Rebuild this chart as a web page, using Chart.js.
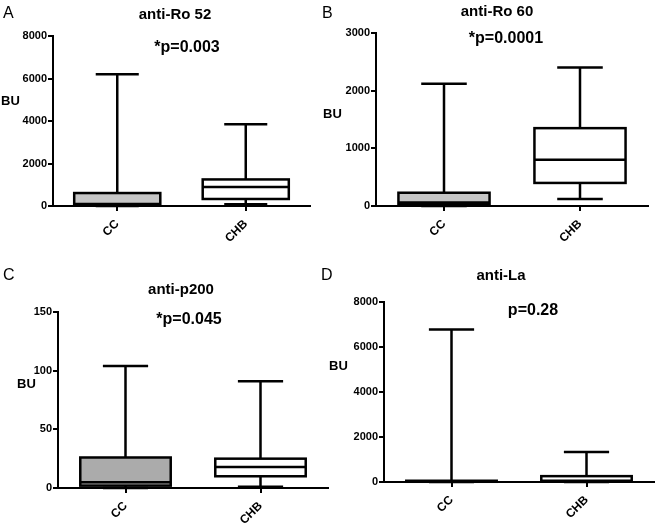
<!DOCTYPE html>
<html>
<head>
<meta charset="utf-8">
<script src="https://cdn.jsdelivr.net/npm/chart.js@4.4.1/dist/chart.umd.min.js"></script>
<style>
  html, body { margin:0; padding:0; background:#fff; }
  body { width:656px; height:526px; position:relative; overflow:hidden; font-family:"Liberation Sans", Arial, sans-serif; }
  .pane { position:absolute; }
  .txt { position:absolute; white-space:nowrap; color:#000; line-height:1; }
  .letter { font-size:16px; font-weight:normal; }
  .title { font-size:15px; font-weight:bold; transform:translate(-50%,-50%); }
  .pval { font-size:16px; font-weight:bold; transform:translate(-50%,-50%); }
  .bu { font-size:13px; font-weight:bold; transform:translateY(-50%); }
</style>
</head>
<body>
<script>
// ---- data ----
const categories = ['CC', 'CHB'];
const panelLetters = ['A', 'B', 'C', 'D'];
const panelTitles = ['anti-Ro 52', 'anti-Ro 60', 'anti-p200', 'anti-La'];
const pValues = ['*p=0.003', '*p=0.0001', '*p=0.045', 'p=0.28'];
const yUnit = 'BU';
const yMaxValues = [8000, 3000, 150, 8000];
const yStepValues = [2000, 1000, 50, 2000];

const ro52Min = [0, 80];
const ro52Q1 = [40, 330];
const ro52Median = [90, 900];
const ro52Q3 = [610, 1250];
const ro52Max = [6200, 3850];

const ro60Min = [0, 120];
const ro60Q1 = [30, 400];
const ro60Median = [60, 800];
const ro60Q3 = [230, 1350];
const ro60Max = [2120, 2400];

const p200Min = [0, 1];
const p200Q1 = [2, 10];
const p200Median = [5, 18];
const p200Q3 = [26, 25];
const p200Max = [104, 91];

const laMin = [0, 0];
const laQ1 = [10, 20];
const laMedian = [30, 60];
const laQ3 = [55, 260];
const laMax = [6780, 1330];

const boxFills = ['#c6c6c6', '#c6c6c6', '#ababab', '#c6c6c6'];

// ---- layout (positions / sizes) ----
const panes = [
  { left:0,   top:0,   w:326, h:260, areaL:53, padR:16, padT:36, xH:54,
    letter:[3,5], title:[175,13], pval:[187,47], bu:[1,100], stats:[ro52Min, ro52Q1, ro52Median, ro52Q3, ro52Max] },
  { left:326, top:0,   w:330, h:260, areaL:50, padR:8,  padT:33, xH:54,
    letter:[-4,5], title:[171,10], pval:[180,38], bu:[-3,113], stats:[ro60Min, ro60Q1, ro60Median, ro60Q3, ro60Max] },
  { left:0,   top:260, w:330, h:266, areaL:58, padR:2,  padT:52, xH:38,
    letter:[3,7], title:[181,28], pval:[189,59], bu:[17,123], stats:[p200Min, p200Q1, p200Median, p200Q3, p200Max] },
  { left:326, top:260, w:330, h:266, areaL:58, padR:2,  padT:42, xH:44,
    letter:[-5,7], title:[175,14], pval:[207,50], bu:[3,105], stats:[laMin, laQ1, laMedian, laQ3, laMax] }
];

const LW = 2.5;

const boxPlugin = {
  id: 'boxWhisker',
  afterDatasetsDraw(chart) {
    const st = chart.options.plugins.boxWhisker.stats;
    const ys = chart.scales.y;
    const meta = chart.getDatasetMeta(0);
    const ctx = chart.ctx;
    ctx.save();
    ctx.strokeStyle = '#000';
    ctx.lineWidth = LW;
    ctx.lineCap = 'butt';
    meta.data.forEach((el, i) => {
      const x = el.x, hw = el.width / 2, cap = el.width / 4;
      const yMin = ys.getPixelForValue(st[0][i]);
      const yQ1 = ys.getPixelForValue(st[1][i]);
      const yMed = ys.getPixelForValue(st[2][i]);
      const yQ3 = ys.getPixelForValue(st[3][i]);
      const yMax = ys.getPixelForValue(st[4][i]);
      ctx.beginPath();
      ctx.moveTo(x, yQ3); ctx.lineTo(x, yMax);
      ctx.moveTo(x - cap, yMax); ctx.lineTo(x + cap, yMax);
      ctx.moveTo(x, yQ1); ctx.lineTo(x, yMin);
      ctx.moveTo(x - cap, yMin); ctx.lineTo(x + cap, yMin);
      ctx.moveTo(x - hw, yMed); ctx.lineTo(x + hw, yMed);
      ctx.stroke();
      ctx.strokeRect(x - hw, yQ3, el.width, yQ1 - yQ3);
    });
    ctx.restore();
  }
};

panes.forEach((p, k) => {
  const div = document.createElement('div');
  div.className = 'pane';
  div.style.left = p.left + 'px'; div.style.top = p.top + 'px';
  div.style.width = p.w + 'px'; div.style.height = p.h + 'px';
  const cv = document.createElement('canvas');
  cv.width = p.w; cv.height = p.h;
  cv.style.width = p.w + 'px'; cv.style.height = p.h + 'px';
  div.appendChild(cv);
  document.body.appendChild(div);

  const addText = (cls, text, pos) => {
    const t = document.createElement('div');
    t.className = 'txt ' + cls;
    t.textContent = text;
    t.style.left = (p.left + pos[0]) + 'px';
    t.style.top = (p.top + pos[1]) + 'px';
    document.body.appendChild(t);
  };
  addText('letter', panelLetters[k], p.letter);
  addText('title', panelTitles[k], p.title);
  addText('pval', pValues[k], p.pval);
  addText('bu', yUnit, p.bu);

  const st = p.stats;
  const tickFont = { family: '"Liberation Sans", Arial, sans-serif', size: 11, weight: 'bold' };
  new Chart(cv, {
    type: 'bar',
    data: {
      labels: categories,
      datasets: [{
        data: categories.map((c, i) => [st[1][i], st[3][i]]),
        backgroundColor: [boxFills[k], '#ffffff'],
        borderWidth: 0,
        barPercentage: 0.67,
        categoryPercentage: 1
      }]
    },
    options: {
      responsive: false,
      devicePixelRatio: 1,
      animation: false,
      layout: { padding: { left: 0, right: p.padR, top: p.padT, bottom: 0 } },
      plugins: {
        legend: { display: false },
        tooltip: { enabled: false },
        title: { display: false },
        boxWhisker: { stats: st }
      },
      scales: {
        x: {
          offset: true,
          afterFit: s => { s.height = p.xH; },
          grid: { display: true, offset: false, drawOnChartArea: false, drawTicks: true, tickLength: 5, color: '#000', lineWidth: 2 },
          border: { display: true, color: '#000', width: 2 },
          ticks: { color: '#000', font: { ...tickFont, size: 12 }, maxRotation: 45, minRotation: 45, padding: 6 }
        },
        y: {
          min: 0, max: yMaxValues[k],
          afterFit: s => { s.width = p.areaL; },
          grid: { display: true, drawOnChartArea: false, drawTicks: true, tickLength: 5, color: '#000', lineWidth: 2 },
          border: { display: true, color: '#000', width: 2 },
          ticks: { stepSize: yStepValues[k], color: '#000', font: tickFont, padding: 1, callback: v => String(v) }
        }
      }
    },
    plugins: [boxPlugin]
  });
});
</script>
</body>
</html>
